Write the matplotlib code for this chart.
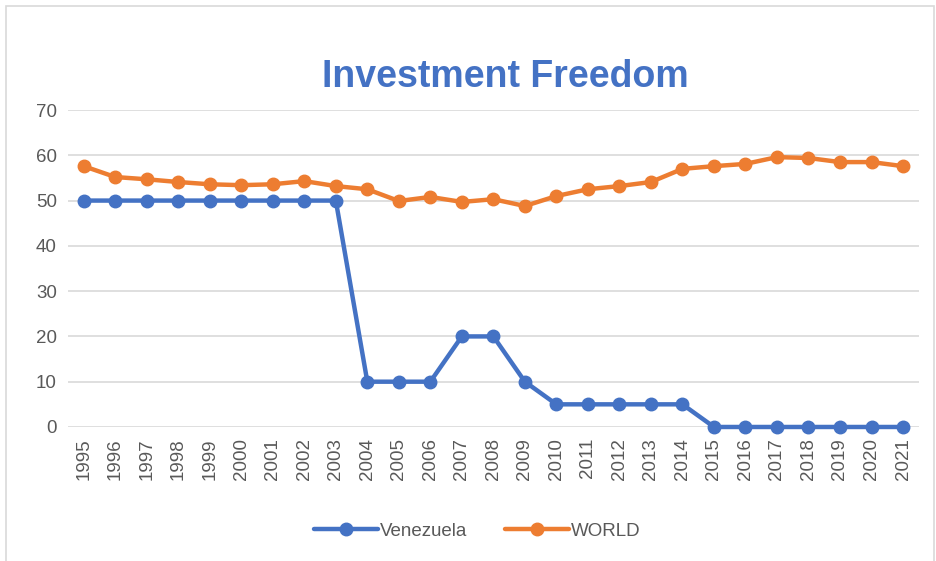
import numpy as np
import matplotlib.pyplot as plt
from matplotlib.patches import Rectangle

years = [str(y) for y in range(1995, 2022)]
venezuela = [50, 50, 50, 50, 50, 50, 50, 50, 50, 10, 10, 10, 20, 20, 10,
             5, 5, 5, 5, 5, 0, 0, 0, 0, 0, 0, 0]
world = [57.6, 55.2, 54.7, 54.1, 53.6, 53.4, 53.6, 54.3, 53.2, 52.5, 49.9,
         50.8, 49.7, 50.3, 48.8, 51.0, 52.5, 53.2, 54.1, 57.0, 57.6, 58.1,
         59.6, 59.4, 58.5, 58.5, 57.6]
yticks = [0, 10, 20, 30, 40, 50, 60, 70]

plt.rcParams['font.family'] = ['Liberation Sans', 'DejaVu Sans']

fig = plt.figure(figsize=(9.36, 5.61), dpi=100)
ax = fig.add_axes([0.0726, 0.2389, 0.909, 0.565])

x = np.arange(len(years))
ax.plot(x, venezuela, color='#4472C4', lw=3.2, marker='o', ms=9,
        label='Venezuela', solid_capstyle='round', zorder=3, clip_on=False)
ax.plot(x, world, color='#ED7D31', lw=3.2, marker='o', ms=9,
        label='WORLD', solid_capstyle='round', zorder=3, clip_on=False)

ax.set_xlim(-0.5, len(years) - 0.5)
ax.set_ylim(0, 70)
ax.set_yticks(yticks)
ax.set_xticks(x)
ax.set_xticklabels(years, rotation=90)
ax.tick_params(axis='both', length=0, labelsize=13.5, colors='#595959', pad=8)
ax.yaxis.grid(True, color='#D9D9D9', lw=1.2)
ax.set_axisbelow(True)
for s in ax.spines.values():
    s.set_visible(False)

fig.text(0.54, 0.862, 'Investment Freedom', ha='center', va='center',
         fontsize=27, fontweight='bold', color='#4472C4')

fig.legend(loc='center', bbox_to_anchor=(0.51, 0.053), ncol=2, frameon=False,
           fontsize=13.5, labelcolor='#595959', handlelength=3.4,
           columnspacing=2.0, handletextpad=0.1)

fig.patches.append(Rectangle((0.006, -0.01), 0.992, 1.0, transform=fig.transFigure,
                             fill=False, edgecolor='#D9D9D9', lw=1.2))

plt.savefig('out.png', dpi=100)
